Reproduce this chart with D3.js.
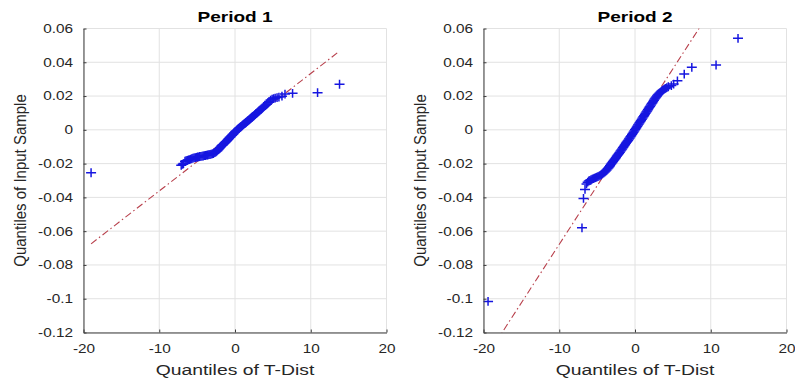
<!DOCTYPE html>
<html><head><meta charset="utf-8">
<script src="https://cdn.jsdelivr.net/npm/d3@7/dist/d3.min.js"></script>
<style>html,body{margin:0;padding:0;background:#fff;}svg{display:block;}</style>
</head><body>
<script>
// ---------- data ----------
const panelTitles = ["Period 1", "Period 2"];
const xTicks = [-20, -10, 0, 10, 20];
const xTickLabels = ["-20", "-10", "0", "10", "20"];
const yTicks = [0.06, 0.04, 0.02, 0, -0.02, -0.04, -0.06, -0.08, -0.1, -0.12];
const yTickLabels = ["0.06", "0.04", "0.02", "0", "-0.02", "-0.04", "-0.06", "-0.08", "-0.1", "-0.12"];
const xLabel = "Quantiles of T-Dist";
const yLabel = "Quantiles of Input Sample";

// Period 1 (x: T-dist quantiles, y: sample quantiles)
const p1X = [-19.0, -7.1, -6.9, -6.8, -6.6, -6.45, -6.3, -6.15, -6.0, -5.85, -5.7, -5.55, -5.4, -5.25, -5.1, -4.95, -4.8, -4.65, -4.5, -4.35, -4.2, -4.05, -3.9, -3.75, -3.6, -3.45, -3.3, -3.15, -3.0, -2.87, -2.75, -2.62, -2.5, -2.4, -2.3, -2.2, -2.1, -2.0, -1.9, -1.8, -1.7, -1.6, -1.5, -1.4, -1.3, -1.2, -1.1, -1.0, -0.9, -0.8, -0.7, -0.6, -0.5, -0.4, -0.3, -0.2, -0.1, 0.0, 0.1, 0.2, 0.3, 0.4, 0.5, 0.6, 0.7, 0.8, 0.9, 1.0, 1.1, 1.2, 1.3, 1.4, 1.5, 1.6, 1.7, 1.8, 1.9, 2.0, 2.1, 2.2, 2.3, 2.42, 2.55, 2.67, 2.8, 2.92, 3.05, 3.17, 3.3, 3.45, 3.6, 3.75, 3.9, 4.05, 4.2, 4.35, 4.5, 4.7, 4.9, 5.1, 5.3, 5.55, 5.8, 6.2, 6.6, 7.6, 10.9, 13.8];
const p1Y = [-0.0254, -0.0210, -0.0204, -0.0200, -0.0186, -0.0183, -0.0181, -0.0178, -0.0176, -0.0173, -0.0170, -0.0168, -0.0166, -0.0164, -0.0163, -0.0161, -0.0160, -0.0158, -0.0157, -0.0156, -0.0155, -0.0153, -0.0152, -0.0150, -0.0149, -0.0147, -0.0146, -0.0144, -0.0142, -0.0140, -0.0137, -0.0134, -0.0130, -0.0126, -0.0122, -0.0117, -0.0112, -0.0106, -0.0101, -0.0096, -0.0092, -0.0088, -0.0084, -0.0079, -0.0075, -0.0071, -0.0066, -0.0061, -0.0056, -0.0051, -0.0046, -0.0042, -0.0037, -0.0032, -0.0027, -0.0023, -0.0018, -0.0013, -0.0009, -0.0005, -0.0001, 0.0004, 0.0008, 0.0012, 0.0016, 0.0020, 0.0024, 0.0028, 0.0031, 0.0035, 0.0038, 0.0042, 0.0045, 0.0049, 0.0053, 0.0057, 0.0061, 0.0065, 0.0069, 0.0073, 0.0077, 0.0081, 0.0086, 0.0091, 0.0096, 0.0101, 0.0106, 0.0112, 0.0117, 0.0122, 0.0128, 0.0134, 0.0140, 0.0146, 0.0152, 0.0160, 0.0168, 0.0176, 0.0182, 0.0185, 0.0188, 0.0191, 0.0194, 0.0199, 0.0212, 0.0216, 0.0220, 0.0270];
const line1X = [-19.0, 13.8];
const line1Y = [-0.0675, 0.0466];

// Period 2
const p2X = [-19.4, -7.0, -6.8, -6.6, -6.4, -6.25, -6.1, -5.95, -5.8, -5.65, -5.5, -5.35, -5.2, -5.05, -4.9, -4.75, -4.6, -4.45, -4.3, -4.15, -4.0, -3.87, -3.75, -3.62, -3.5, -3.4, -3.3, -3.2, -3.1, -3.0, -2.9, -2.8, -2.7, -2.6, -2.5, -2.4, -2.3, -2.2, -2.1, -2.0, -1.9, -1.8, -1.7, -1.6, -1.5, -1.4, -1.3, -1.2, -1.1, -1.0, -0.9, -0.8, -0.7, -0.6, -0.5, -0.4, -0.3, -0.2, -0.1, 0.0, 0.1, 0.2, 0.3, 0.4, 0.5, 0.6, 0.7, 0.8, 0.9, 1.0, 1.1, 1.2, 1.3, 1.4, 1.5, 1.6, 1.7, 1.8, 1.9, 2.0, 2.1, 2.2, 2.3, 2.4, 2.5, 2.6, 2.7, 2.8, 2.9, 3.0, 3.1, 3.22, 3.35, 3.47, 3.6, 3.75, 3.9, 4.05, 4.2, 4.4, 4.8, 5.1, 5.6, 6.5, 7.5, 10.7, 13.6];
const p2Y = [-0.1016, -0.0580, -0.0406, -0.0353, -0.0320, -0.0310, -0.0303, -0.0299, -0.0295, -0.0292, -0.0289, -0.0286, -0.0283, -0.0280, -0.0277, -0.0274, -0.0270, -0.0266, -0.0261, -0.0256, -0.0250, -0.0244, -0.0238, -0.0231, -0.0224, -0.0218, -0.0212, -0.0206, -0.0200, -0.0194, -0.0188, -0.0182, -0.0176, -0.0170, -0.0164, -0.0157, -0.0151, -0.0145, -0.0139, -0.0132, -0.0126, -0.0119, -0.0113, -0.0106, -0.0100, -0.0093, -0.0087, -0.0080, -0.0074, -0.0067, -0.0061, -0.0054, -0.0048, -0.0041, -0.0035, -0.0028, -0.0021, -0.0014, -0.0007, 0.0000, 0.0007, 0.0014, 0.0021, 0.0028, 0.0035, 0.0042, 0.0049, 0.0056, 0.0063, 0.0070, 0.0077, 0.0084, 0.0091, 0.0098, 0.0105, 0.0112, 0.0119, 0.0126, 0.0133, 0.0140, 0.0147, 0.0154, 0.0161, 0.0168, 0.0175, 0.0182, 0.0188, 0.0194, 0.0200, 0.0206, 0.0211, 0.0217, 0.0222, 0.0228, 0.0233, 0.0238, 0.0242, 0.0246, 0.0250, 0.0255, 0.0262, 0.0271, 0.0290, 0.0330, 0.0370, 0.0384, 0.0542];
const line2X = [-19.4, 13.6];
const line2Y = [-0.1329, 0.0957];

const panels = [
  {title: panelTitles[0], xs: p1X, ys: p1Y, lx: line1X, ly: line1Y},
  {title: panelTitles[1], xs: p2X, ys: p2Y, lx: line2X, ly: line2Y}
];

// ---------- drawing ----------
const W = 795, H = 379;
const lefts = [83.5, 483.5];
const plotW = 303, plotTop = 28.5, plotBottom = 332.5;
const sx = 1.28;
const font = "'Liberation Sans', Arial, Helvetica, sans-serif";
const textCol = "#262626";

const svg = d3.select("body").append("svg").attr("width", W).attr("height", H)
  .style("font-family", font);

panels.forEach((p, i) => {
  const L = lefts[i];
  const x = d3.scaleLinear().domain([-20, 20]).range([L, L + plotW]);
  const y = d3.scaleLinear().domain([-0.12, 0.06]).range([plotBottom, plotTop]);
  const g = svg.append("g");

  const cid = "clip" + i;
  svg.append("defs").append("clipPath").attr("id", cid)
    .append("rect").attr("x", L).attr("y", plotTop).attr("width", plotW).attr("height", plotBottom - plotTop);

  // grid
  const grid = g.append("g").attr("stroke", "#e2e2e2").attr("stroke-width", 1);
  grid.selectAll("line.v").data(xTicks).join("line").attr("class", "v")
    .attr("x1", d => x(d)).attr("x2", d => x(d)).attr("y1", plotTop).attr("y2", plotBottom);
  grid.selectAll("line.h").data(yTicks).join("line").attr("class", "h")
    .attr("x1", L).attr("x2", L + plotW).attr("y1", d => y(d)).attr("y2", d => y(d));

  // reference line
  const lineData = p.lx.map((v, j) => [v, p.ly[j]]);
  g.append("path").datum(lineData)
    .attr("clip-path", `url(#${cid})`)
    .attr("d", d3.line().x(d => x(d[0])).y(d => y(d[1])))
    .attr("fill", "none").attr("stroke", "#b8404c").attr("stroke-width", 1.1)
    .attr("stroke-dasharray", "7,3,1.5,3");

  // markers
  const pts = p.xs.map((v, j) => [v, p.ys[j]]);
  g.append("g").attr("clip-path", `url(#${cid})`)
    .selectAll("path").data(pts).join("path")
    .attr("d", d => {
      const px = x(d[0]), py = y(d[1]);
      return `M${px - 5},${py}h10M${px},${py - 4.4}v8.8`;
    })
    .attr("stroke", "#1616e0").attr("stroke-width", 1.5).attr("fill", "none");

  // axes
  const xa = g.append("g").attr("transform", `translate(0,${plotBottom})`)
    .call(d3.axisBottom(x).tickValues(xTicks).tickFormat((d, j) => xTickLabels[j])
      .tickSizeInner(-3).tickSizeOuter(0).tickPadding(11.5));
  const ya = g.append("g").attr("transform", `translate(${L},0)`)
    .call(d3.axisLeft(y).tickValues(yTicks).tickFormat((d, j) => yTickLabels[j])
      .tickSizeInner(-3).tickSizeOuter(0).tickPadding(10));
  [xa, ya].forEach(a => {
    a.select(".domain").attr("stroke", "#3c3c3c").attr("stroke-width", 1);
    a.selectAll(".tick line").attr("stroke", "#3c3c3c");
    a.selectAll("text").attr("fill", textCol).style("font-size", "12px")
      .style("font-family", font);
  });
  xa.selectAll("text").attr("transform", `scale(${sx},1)`).attr("x", 0);
  ya.selectAll("text").attr("transform", `scale(${sx},1)`).attr("x", -10.5 / sx);

  const cx = L + plotW / 2;
  g.append("text").text(p.title)
    .attr("transform", `translate(${cx},21.7) scale(1.27,1)`)
    .attr("text-anchor", "middle").attr("font-weight", "bold")
    .style("font-size", "15px").attr("fill", "#000");

  g.append("text").text(xLabel)
    .attr("transform", `translate(${cx},375) scale(1.29,1)`)
    .attr("text-anchor", "middle").style("font-size", "15px").attr("fill", textCol);

  g.append("text").text(yLabel)
    .attr("transform", `translate(${L - 58},${(plotTop + plotBottom) / 2}) scale(1.1,1) rotate(-90)`)
    .attr("text-anchor", "middle").style("font-size", "15px").attr("fill", textCol);
});
</script>
</body></html>
